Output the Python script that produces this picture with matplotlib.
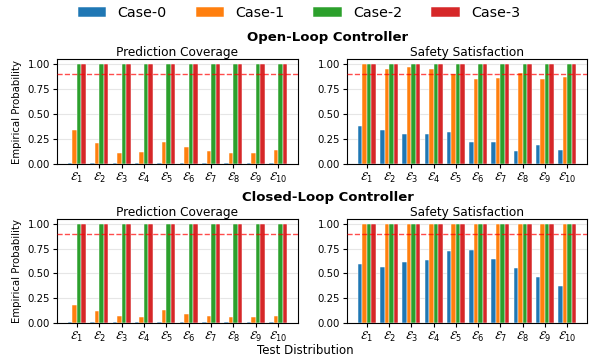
import numpy as np
import matplotlib
matplotlib.use("Agg")
import matplotlib.pyplot as plt

# data
cases = ["Case-0", "Case-1", "Case-2", "Case-3"]
colors = ["#1f77b4", "#ff7f0e", "#2ca02c", "#d62728"]
tick_labels = [r"$\mathcal{E}_{%d}$" % i for i in range(1, 11)]
threshold = 0.9

# open-loop controller
ol_cov_case0 = [0.015] * 10
ol_cov_case1 = [0.34, 0.21, 0.11, 0.12, 0.22, 0.17, 0.13, 0.11, 0.11, 0.14]
ol_cov_case2 = [1.0] * 10
ol_cov_case3 = [1.0] * 10

ol_safe_case0 = [0.38, 0.34, 0.30, 0.30, 0.32, 0.22, 0.22, 0.13, 0.19, 0.14]
ol_safe_case1 = [1.0, 0.95, 0.97, 0.95, 0.90, 0.85, 0.86, 0.91, 0.85, 0.87]
ol_safe_case2 = [1.0] * 10
ol_safe_case3 = [1.0] * 10

# closed-loop controller
cl_cov_case0 = [0.01] * 10
cl_cov_case1 = [0.18, 0.12, 0.07, 0.06, 0.13, 0.09, 0.07, 0.06, 0.06, 0.07]
cl_cov_case2 = [1.0] * 10
cl_cov_case3 = [1.0] * 10

cl_safe_case0 = [0.60, 0.57, 0.62, 0.64, 0.73, 0.74, 0.65, 0.56, 0.46, 0.37]
cl_safe_case1 = [1.0] * 10
cl_safe_case2 = [1.0] * 10
cl_safe_case3 = [1.0] * 10

panels = [
    ("Prediction Coverage", [ol_cov_case0, ol_cov_case1, ol_cov_case2, ol_cov_case3]),
    ("Safety Satisfaction", [ol_safe_case0, ol_safe_case1, ol_safe_case2, ol_safe_case3]),
    ("Prediction Coverage", [cl_cov_case0, cl_cov_case1, cl_cov_case2, cl_cov_case3]),
    ("Safety Satisfaction", [cl_safe_case0, cl_safe_case1, cl_safe_case2, cl_safe_case3]),
]

W, H = 592, 356
fig = plt.figure(figsize=(W / 100, H / 100), dpi=100)

# axes boxes in pixels: left, top, right, bottom
boxes = [(57, 59, 298, 164), (347, 59, 587, 164),
         (57, 219, 298, 323), (347, 219, 587, 323)]

x = np.arange(10)
width = 0.2
handles = []
for i, (title, series) in enumerate(panels):
    l, t, r, b = boxes[i]
    ax = fig.add_axes([l / W, 1 - b / H, (r - l) / W, (b - t) / H])
    for k, vals in enumerate(series):
        bars = ax.bar(x + (k - 1.5) * width, vals, width, color=colors[k],
                      edgecolor="white", linewidth=0.35, zorder=2, label=cases[k])
        if i == 0:
            handles.append(bars)
    ax.axhline(threshold, color="red", ls="--", lw=1, alpha=0.7, zorder=3)
    ax.set_yticks([0, 0.25, 0.5, 0.75, 1.0])
    ax.set_yticklabels(["0.00", "0.25", "0.50", "0.75", "1.00"])
    ax.grid(axis="y", color="#e6e6e6", lw=0.8, zorder=0)
    ax.set_axisbelow(True)
    ax.set_xticks(x)
    ax.set_xticklabels(tick_labels)
    ax.tick_params(labelsize=7.3, length=3, width=0.8, pad=2)
    ax.tick_params(axis="x", labelsize=8.5)
    ax.set_title(title, fontsize=8.7, pad=2)
    if i % 2 == 0:
        ax.set_ylabel("Empirical Probability", fontsize=7.3, labelpad=4)

fig.text(328 / W, 1 - 37 / H, "Open-Loop Controller", ha="center", va="center",
         fontsize=9.5, fontweight="bold")
fig.text(328 / W, 1 - 198 / H, "Closed-Loop Controller", ha="center", va="center",
         fontsize=9.5, fontweight="bold")
fig.text(305 / W, 1 - 350 / H, "Test Distribution", ha="center", va="center",
         fontsize=8.5)

fig.legend(handles, cases, loc="center", bbox_to_anchor=(299 / W, 1 - 13 / H),
           ncol=4, frameon=False, fontsize=10.3)

fig.savefig("out.png", dpi=100)
